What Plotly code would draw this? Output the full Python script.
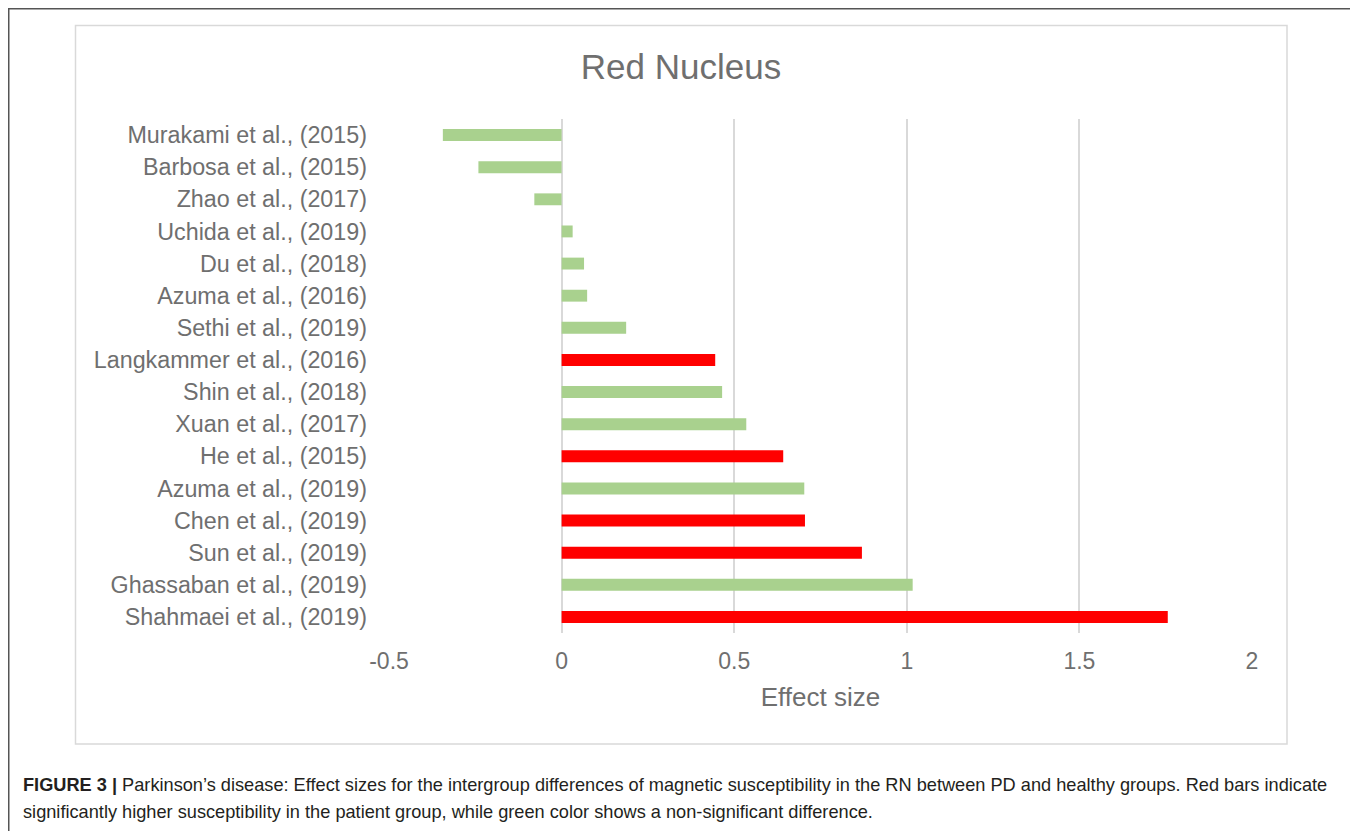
import plotly.graph_objects as go

studies = [
    "Murakami et al., (2015)", "Barbosa et al., (2015)", "Zhao et al., (2017)",
    "Uchida et al., (2019)", "Du et al., (2018)", "Azuma et al., (2016)",
    "Sethi et al., (2019)", "Langkammer et al., (2016)", "Shin et al., (2018)",
    "Xuan et al., (2017)", "He et al., (2015)", "Azuma et al., (2019)",
    "Chen et al., (2019)", "Sun et al., (2019)", "Ghassaban et al., (2019)",
    "Shahmaei et al., (2019)",
]
effect_size = [-0.344, -0.241, -0.079, 0.032, 0.065, 0.074, 0.187, 0.445,
               0.465, 0.535, 0.642, 0.703, 0.705, 0.870, 1.017, 1.756]
significant = [False, False, False, False, False, False, False, True,
               False, False, True, False, True, True, False, True]
x_ticks = [-0.5, 0, 0.5, 1, 1.5, 2]
x_tick_labels = ["-0.5", "0", "0.5", "1", "1.5", "2"]

GREEN = "#a9d18e"
RED = "#ff0000"
colors = [RED if s else GREEN for s in significant]

OFF = 8  # page body margin
W, H = 1358 - OFF, 831 - OFF
L, R, T, B = 389 - OFF, 1252 - OFF, 119 - OFF, 633 - OFF  # plot area (figure px)


def px_x(p):  # p in page pixels
    return (p - OFF - L) / (R - L)


def px_y(p):
    return (B - (p - OFF)) / (B - T)


fig = go.Figure()
fig.add_trace(go.Bar(
    x=effect_size, y=studies, orientation="h",
    marker=dict(color=colors, line=dict(width=0)),
    width=0.37, hoverinfo="x+y",
))

grey_text = "#6f6f6f"
fig.update_layout(
    width=W, height=H, autosize=False,
    margin=dict(l=L, r=W - R, t=T, b=H - B, pad=0),
    paper_bgcolor="white", plot_bgcolor="white",
    showlegend=False,
    font=dict(family="Liberation Sans, Arial, sans-serif", color=grey_text),
    xaxis=dict(
        range=[-0.5, 2], tickvals=x_ticks, ticktext=x_tick_labels,
        showgrid=True, gridcolor="#d9d9d9", gridwidth=1.5,
        zeroline=True, zerolinecolor="#d9d9d9", zerolinewidth=1.5,
        showline=False, ticks="", tickfont=dict(size=23, color=grey_text),
        ticklabelstandoff=12,
        title=dict(text="Effect size", font=dict(size=26, color=grey_text), standoff=14),
    ),
    yaxis=dict(
        categoryorder="array", categoryarray=studies, autorange="reversed",
        showgrid=False, showline=False, ticks="", zeroline=False,
        tickfont=dict(size=23.3, color=grey_text), ticklabelstandoff=21,
    ),
    title=dict(text="Red Nucleus", x=px_x(681), xref="paper", xanchor="center",
               y=1 - (67 - OFF) / H, yref="container", yanchor="middle",
               font=dict(size=35, color=grey_text)),
)

# inner chart frame
fig.add_shape(type="rect", xref="paper", yref="paper",
              x0=px_x(75.5), x1=px_x(1287), y0=px_y(744), y1=px_y(25.5),
              line=dict(color="#d9d9d9", width=1.5), layer="below")
# outer figure frame
fig.add_shape(type="rect", xref="paper", yref="paper",
              x0=px_x(8.75), x1=px_x(1355), y0=px_y(845), y1=px_y(8.75),
              line=dict(color="#555555", width=1.5), layer="below")

cap_font = dict(family="Liberation Sans Narrow, Arial Narrow, sans-serif",
                size=18.2, color="#231f20")
line1 = ("<b>FIGURE 3 |</b> Parkinson’s disease: Effect sizes for the intergroup differences of "
         "magnetic susceptibility in the RN between PD and healthy groups. Red bars indicate")
line2 = ("significantly higher susceptibility in the patient group, while green color shows a "
         "non-significant difference.")
for txt, yc in [(line1, 785), (line2, 812)]:
    fig.add_annotation(text=txt, xref="paper", yref="paper", x=px_x(21), y=px_y(yc),
                       xanchor="left", yanchor="middle", showarrow=False, align="left",
                       font=cap_font)

fig.write_html("out.html")
